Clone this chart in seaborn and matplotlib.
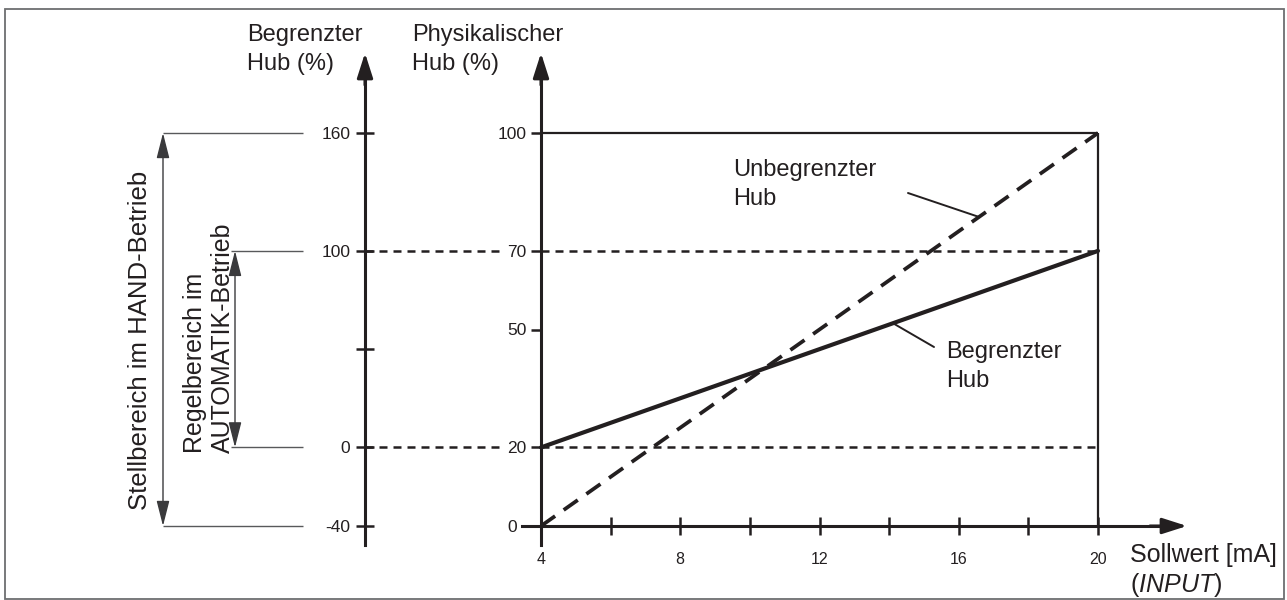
import numpy as np
import matplotlib.pyplot as plt
import matplotlib.patches as patches
import seaborn as sns

# values
sollwert_ma = [4, 20]
begrenzter_hub = [20, 70]
unbegrenzter_hub = [0, 100]
hub_grenzen = [20, 70]          # physical stroke at the limits
x_ticks = [4, 6, 8, 10, 12, 14, 16, 18, 20]
x_labels = ['4', '', '8', '', '12', '', '16', '', '20']
phys_ticks = [0, 20, 50, 70, 100]
phys_labels = ['0\u2002', '20', '50', '70', '100']
begr_ticks = [-40, 0, 50, 100, 160]
begr_labels = ['-40', '0', '', '100', '160']
hand_range = [-40, 160]         # Stellbereich HAND
auto_range = [0, 100]           # Regelbereich AUTOMATIK

sns.set_theme(style='white')
plt.rcParams['font.family'] = ['Liberation Sans', 'DejaVu Sans']
plt.rcParams['mathtext.fontset'] = 'custom'
plt.rcParams['mathtext.rm'] = 'Liberation Sans'
plt.rcParams['mathtext.it'] = 'Liberation Sans:italic'

INK = '#231f20'
GREY = '#58595b'
W, H = 1287, 600

# pixel layout of the drawing
k = (1098 - 541) / 16.0
m = (526 - 133) / 100.0
def px_x(px):
    return 4 + (px - 541) / k
def px_y(py):
    return (526 - py) / m
def ft(px, py, s, **kw):
    return fig.text(px / W, 1 - py / H, s, color=INK, **kw)

LEFT_X = px_x(365)

fig = plt.figure(figsize=(12.87, 6), dpi=100)
ax = fig.add_axes([0, 0, 1, 1])

# curves
sns.lineplot(x=sollwert_ma, y=begrenzter_hub, ax=ax, color=INK, lw=3)
sns.lineplot(x=sollwert_ma, y=unbegrenzter_hub, ax=ax, color=INK, lw=2.7,
             linestyle=(0, (4.6, 2.8)))

# limits (dashed, broken at the tick labels) and box
dash_kw = dict(colors=INK, lw=1.8, linestyles=[(0, (3.2, 2.4))])
ax.hlines(hub_grenzen, LEFT_X, px_x(503), **dash_kw)
ax.hlines(hub_grenzen, sollwert_ma[0], sollwert_ma[-1], **dash_kw)
ax.hlines(max(unbegrenzter_hub), sollwert_ma[0], sollwert_ma[-1], colors=INK, lw=1.6)
ax.vlines(sollwert_ma[-1], 0, max(unbegrenzter_hub), colors=INK, lw=1.6)

ax.set_xlim(px_x(0), px_x(W))
ax.set_ylim(px_y(H), px_y(0))
ax.set_xlabel('')
ax.set_ylabel('')

for s in ['top', 'right']:
    ax.spines[s].set_visible(False)
ax.spines['left'].set_position(('data', 4))
ax.spines['bottom'].set_position(('data', 0))
ax.spines['left'].set_bounds(px_y(545), px_y(62))
ax.spines['bottom'].set_bounds(px_x(522), px_x(1165))
for s in ['left', 'bottom']:
    ax.spines[s].set_color(INK)
    ax.spines[s].set_linewidth(2.2)

ax.set_xticks(x_ticks)
ax.set_xticklabels(x_labels)
ax.set_yticks(phys_ticks)
ax.set_yticklabels(phys_labels)
ax.tick_params(axis='x', bottom=True, direction='inout', length=13, width=1.8,
               pad=12, labelsize=11.5, colors=INK)
ax.tick_params(axis='y', left=True, direction='out', length=7, width=1.8,
               pad=3.5, labelsize=12.5, colors=INK)

arrow_kw = dict(arrowstyle='-|>,head_length=1.0,head_width=0.32', mutation_scale=15,
                color=INK, lw=2.2, shrinkA=0, shrinkB=0)
ax.annotate('', xy=(4, px_y(53)), xytext=(4, px_y(85)), arrowprops=arrow_kw)
ax.annotate('', xy=(px_x(1187), 0), xytext=(px_x(1150), 0), arrowprops=arrow_kw)

# left scale: Begrenzter Hub
ax2 = ax.twinx()
scale = (hand_range[1] - hand_range[0]) / 100.0
lo, hi = ax.get_ylim()
ax2.set_ylim(hand_range[0] + lo * scale, hand_range[0] + hi * scale)
for s in ['top', 'right', 'bottom']:
    ax2.spines[s].set_visible(False)
ax2.spines['left'].set_visible(True)
ax2.spines['left'].set_position(('data', LEFT_X))
ax2.spines['left'].set_bounds(hand_range[0] + px_y(545) * scale,
                              hand_range[0] + px_y(62) * scale)
ax2.spines['left'].set_color(INK)
ax2.spines['left'].set_linewidth(2.2)
ax2.yaxis.set_ticks_position('left')
ax2.set_yticks(begr_ticks)
ax2.set_yticklabels(begr_labels)
ax2.tick_params(axis='y', left=True, right=False, direction='inout', length=13,
                width=1.8, pad=4, labelsize=12.5, colors=INK)
ax2.grid(False)
ax2.annotate('', xy=(LEFT_X, hand_range[0] + px_y(53) * scale),
             xytext=(LEFT_X, hand_range[0] + px_y(85) * scale), arrowprops=arrow_kw)

# ranges on the far left
thin_kw = dict(arrowstyle='<|-|>,head_length=1.3,head_width=0.33', mutation_scale=12,
               color='#3a3a3c', lw=1.0, shrinkA=0, shrinkB=0)
ax2.hlines(hand_range, px_x(163), px_x(303), colors=GREY, lw=1.0)
ax2.hlines(auto_range, px_x(231), px_x(303), colors=GREY, lw=1.0)
ax2.annotate('', xy=(px_x(163), hand_range[1]), xytext=(px_x(163), hand_range[0]),
             arrowprops=thin_kw)
ax2.annotate('', xy=(px_x(235), auto_range[1]), xytext=(px_x(235), auto_range[0]),
             arrowprops=thin_kw)

# leader lines
x_u = px_x(979)
ax.annotate('', xy=(x_u, np.interp(x_u, sollwert_ma, unbegrenzter_hub)),
            xytext=(px_x(908), px_y(193)),
            arrowprops=dict(arrowstyle='-', color=INK, lw=1.4, shrinkA=0, shrinkB=0))
x_b = px_x(893)
ax.annotate('', xy=(x_b, np.interp(x_b, sollwert_ma, begrenzter_hub)),
            xytext=(px_x(934), px_y(347)),
            arrowprops=dict(arrowstyle='-', color=INK, lw=1.4, shrinkA=0, shrinkB=0))

# texts
FS = 17
LS = 1.42
ft(247, 24, 'Begrenzter\nHub (%)', fontsize=FS, ha='left', va='top', linespacing=LS)
ft(412, 24, 'Physikalischer\nHub (%)', fontsize=FS, ha='left', va='top', linespacing=LS)
ft(733, 159, 'Unbegrenzter\nHub', fontsize=FS, ha='left', va='top', linespacing=LS)
ft(946, 341, 'Begrenzter\nHub', fontsize=FS, ha='left', va='top', linespacing=LS)
ft(1130, 543, 'Sollwert [mA]', fontsize=FS + 1, ha='left', va='top')
ft(1130, 571, r'($\mathit{INPUT}$)', fontsize=FS + 1, ha='left', va='top')
ft(140, 510, 'Stellbereich im HAND-Betrieb', fontsize=FS + 1.5, rotation=90,
   ha='center', va='bottom')
ft(209, 453, 'Regelbereich im\nAUTOMATIK-Betrieb', fontsize=FS + 1, rotation=90,
   ha='center', va='bottom', multialignment='left', linespacing=1.25)

# frame around the figure
fig.add_artist(patches.Rectangle((5 / W, 1.5 / H), 1279 / W, 589.5 / H, fill=False,
                                 edgecolor='#6d6e71', lw=1.3, transform=fig.transFigure))

fig.savefig('out.png', dpi=100)
